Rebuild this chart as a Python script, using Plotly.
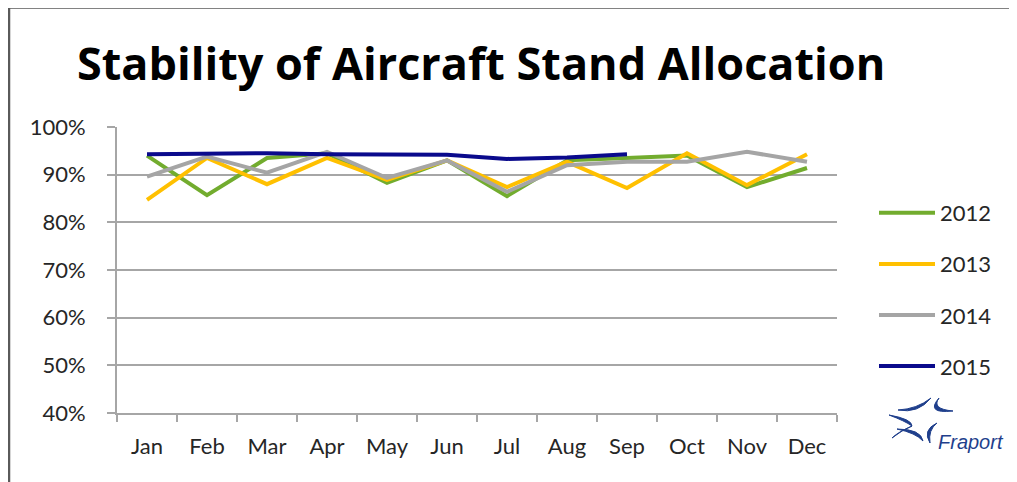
import plotly.graph_objects as go

months = ["Jan", "Feb", "Mar", "Apr", "May", "Jun", "Jul", "Aug", "Sep", "Oct", "Nov", "Dec"]
y2012 = [0.940, 0.857, 0.935, 0.945, 0.883, 0.930, 0.855, 0.930, 0.935, 0.940, 0.874, 0.914]
y2013 = [0.847, 0.935, 0.880, 0.935, 0.889, 0.930, 0.874, 0.927, 0.872, 0.945, 0.878, 0.943]
y2014 = [0.896, 0.938, 0.904, 0.948, 0.893, 0.930, 0.864, 0.920, 0.927, 0.927, 0.948, 0.927]
y2015 = [0.943, 0.944, 0.945, 0.943, 0.942, 0.942, 0.933, 0.936, 0.943]
series_names = ["2012", "2013", "2014", "2015"]
series_colors = ["#72AC2E", "#FFC000", "#A5A5A5", "#0A0A8C"]
tick_vals = [0.4, 0.5, 0.6, 0.7, 0.8, 0.9, 1.0]
tick_text = ["40%", "50%", "60%", "70%", "80%", "90%", "100%"]

W, H = 1017, 482
OFF = 8  # page body margin
# plot area in page pixels: x 117..837, y 127..413
L = 117 - OFF
T = 127 - OFF
R = W - (837 - OFF)
B = H - (413 - OFF)
PW, PH = W - L - R, H - T - B


def px(x):
    """page pixel x -> paper coordinate"""
    return (x - OFF - L) / PW


def py(y):
    """page pixel y -> paper coordinate"""
    return (H - B - (y - OFF)) / PH


fig = go.Figure()
for name, vals, col in zip(series_names, [y2012, y2013, y2014, y2015], series_colors):
    fig.add_trace(go.Scatter(
        x=months[:len(vals)], y=vals, mode="lines", name=name,
        legendgroup=name,
        line=dict(color=col, width=4),
    ))

grid = "#A6A6A6"
fig.update_layout(
    width=W, height=H,
    margin=dict(l=L, r=R, t=T, b=B, pad=0),
    paper_bgcolor="white", plot_bgcolor="white",
    font=dict(family="Lato, Liberation Sans, sans-serif", size=22, color="#262626"),
    showlegend=True,
    legend=dict(
        x=px(874), y=py(192), xanchor="left", yanchor="top",
        bgcolor="rgba(0,0,0,0)", borderwidth=0,
        tracegroupgap=19.5, itemwidth=56,
        font=dict(size=22, color="#262626"),
    ),
    xaxis=dict(
        type="category", categoryorder="array", categoryarray=months,
        showline=True, linecolor=grid, linewidth=2,
        ticks="outside", tickson="boundaries", ticklen=7, tickcolor=grid, tickwidth=2,
        showgrid=False, zeroline=False,
        ticklabelstandoff=13,
        range=[-0.5, 11.5],
    ),
    yaxis=dict(
        range=[0.4, 1.0], tickvals=tick_vals, ticktext=tick_text,
        showline=True, linecolor=grid, linewidth=2,
        ticks="outside", ticklen=8, tickcolor=grid, tickwidth=2,
        showgrid=True, gridcolor=grid, gridwidth=2,
        zeroline=False, ticklabelstandoff=17,
    ),
)

fig.add_annotation(
    text="<b>Stability of Aircraft Stand Allocation</b>",
    xref="paper", yref="paper", x=px(481), y=py(62),
    xanchor="center", yanchor="middle", showarrow=False,
    font=dict(family="Open Sans, Lato, sans-serif", size=45, color="#000000"),
)

# Frame around the chart
fig.add_shape(type="rect", xref="paper", yref="paper",
              x0=px(9), y0=py(7.5), x1=px(1040), y1=py(510),
              line=dict(color="#5A5A5A", width=2.5), layer="below")

# Fraport logo approximation (filled crescents)
logo_blue = "#1F3F8C"
crescents = [
    # start, outer control, inner control, end
    [(898, 410), (918, 414), (917, 409), (931, 398)],
    [(939, 398), (925, 414), (931, 409), (953, 411)],
    [(889, 415), (912, 419), (905, 421), (912, 426)],
    [(912, 426), (898, 432), (902, 430), (892, 438)],
    [(897, 429), (921, 429), (916, 433), (923, 441)],
    [(937, 423), (922, 430), (928, 430), (930, 443)],
]
for (x0, y0), (ox, oy), (ix, iy), (x1, y1) in crescents:
    d = "M {} {} Q {} {} {} {} Q {} {} {} {} Z".format(
        px(x0), py(y0), px(ox), py(oy), px(x1), py(y1), px(ix), py(iy), px(x0), py(y0))
    fig.add_shape(type="path", xref="paper", yref="paper", path=d,
                  fillcolor=logo_blue, line=dict(color=logo_blue, width=1))
fig.add_annotation(
    text="<i>Fraport</i>", xref="paper", yref="paper", x=px(936), y=py(442),
    xanchor="left", yanchor="middle", showarrow=False,
    font=dict(family="Liberation Sans, sans-serif", size=20, color=logo_blue),
)

fig.write_html("out.html")
